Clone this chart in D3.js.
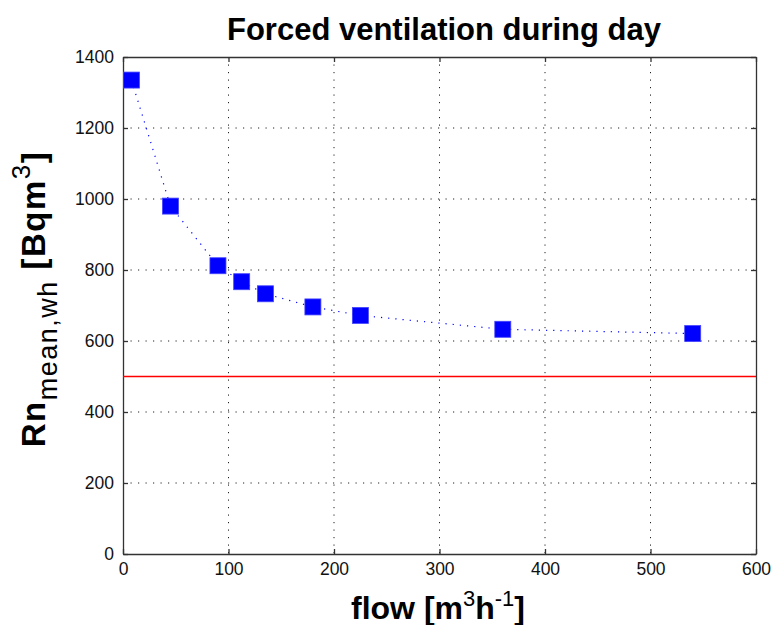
<!DOCTYPE html>
<html>
<head>
    <meta charset="utf-8">
    <title>Forced ventilation during day</title>
    <script type="text/javascript" src="https://d3js.org/d3.v7.min.js"></script>
    <style>
        body { margin: 0; background: white; }
        .canvas { font-family: "Liberation Sans", Arial, sans-serif; background-color: white; }
    </style>
</head>
<body>
    <svg class="canvas" width="773" height="625"></svg>
    <script type="text/javascript">
        // values
        var flow = [8, 45, 90, 112.5, 135, 180, 225, 360, 540]
        var radon = [1335, 980, 812, 767, 733, 696, 672, 633, 621]
        var limit = 500
        var xTicks = [0, 100, 200, 300, 400, 500, 600]
        var yTicks = [0, 200, 400, 600, 800, 1000, 1200, 1400]

        var pl = 123, pr = 756, pt = 57, pb = 554

        var svg = d3.select('.canvas')

        var x = d3.scaleLinear().domain([0, 600]).range([pl, pr])
        var y = d3.scaleLinear().domain([0, 1400]).range([pb, pt])

        // dotted grid
        svg.append('g')
            .selectAll('line')
            .data(xTicks.slice(1, -1))
            .enter()
            .append('line')
            .attr('x1', d => x(d)).attr('x2', d => x(d))
            .attr('y1', pt).attr('y2', pb)
            .attr('stroke', '#222').attr('stroke-width', 1)
            .attr('stroke-dasharray', '1.2,6.3')
        svg.append('g')
            .selectAll('line')
            .data(yTicks.slice(1, -1))
            .enter()
            .append('line')
            .attr('y1', d => y(d)).attr('y2', d => y(d))
            .attr('x1', pl).attr('x2', pr)
            .attr('stroke', '#222').attr('stroke-width', 1)
            .attr('stroke-dasharray', '1.2,6.3')

        // axes with inward ticks, box on all sides
        var fmt = d3.format('d')
        svg.append('g')
            .attr('transform', 'translate(0,' + pb + ')')
            .call(d3.axisBottom(x).tickValues(xTicks).tickFormat(fmt).tickSizeInner(-5).tickSizeOuter(0).tickPadding(9))
        svg.append('g')
            .attr('transform', 'translate(' + pl + ',0)')
            .call(d3.axisLeft(y).tickValues(yTicks).tickFormat(fmt).tickSizeInner(-5).tickSizeOuter(0).tickPadding(9))
        svg.append('g')
            .attr('transform', 'translate(0,' + pt + ')')
            .call(d3.axisTop(x).tickValues(xTicks).tickSizeInner(-5).tickSizeOuter(0).tickFormat(''))
        svg.append('g')
            .attr('transform', 'translate(' + pr + ',0)')
            .call(d3.axisRight(y).tickValues(yTicks).tickSizeInner(-5).tickSizeOuter(0).tickFormat(''))
        svg.selectAll('.domain, .tick line').attr('stroke', '#333').attr('stroke-width', 1.3)
        svg.selectAll('.tick text')
            .attr('font-size', 17.5)
            .attr('fill', '#111')
            .attr('font-family', '"Liberation Sans", Arial, sans-serif')

        // limit line
        svg.append('line')
            .attr('x1', x(0)).attr('x2', x(600))
            .attr('y1', y(limit)).attr('y2', y(limit))
            .attr('stroke', '#ff0000').attr('stroke-width', 1.3)

        // series
        var pts = flow.map((f, i) => [f, radon[i]])
        var line = d3.line().x(d => x(d[0])).y(d => y(d[1]))
        svg.append('path')
            .datum(pts)
            .attr('d', line)
            .attr('fill', 'none')
            .attr('stroke', '#0000ff')
            .attr('stroke-width', 1.2)
            .attr('stroke-dasharray', '1.2,6')

        var s = 16
        svg.selectAll('.dot')
            .data(pts)
            .enter()
            .append('rect')
            .attr('x', d => x(d[0]) - s / 2)
            .attr('y', d => y(d[1]) - s / 2)
            .attr('width', s).attr('height', s)
            .attr('fill', '#0000ff')
            .attr('stroke', '#4444ff').attr('stroke-width', 0.8)

        // texts
        svg.append('text')
            .attr('x', 444).attr('y', 40)
            .attr('text-anchor', 'middle')
            .style('font-size', '31px').style('font-weight', 'bold')
            .text('Forced ventilation during day')

        var xl = svg.append('text')
            .attr('x', 438).attr('y', 619)
            .attr('text-anchor', 'middle')
            .style('font-size', '32px').style('font-weight', 'bold')
        xl.append('tspan').text('flow [m')
        xl.append('tspan').attr('dy', -13).style('font-size', '22px').style('font-weight', 'normal').text('3')
        xl.append('tspan').attr('dy', 13).text('h')
        xl.append('tspan').attr('dy', -13).style('font-size', '22px').style('font-weight', 'normal').text('-1')
        xl.append('tspan').attr('dy', 13).text(']')

        var yl = svg.append('text')
            .attr('transform', 'translate(45,299) rotate(-90)')
            .attr('text-anchor', 'middle')
            .style('font-size', '33px').style('font-weight', 'bold')
            .style('letter-spacing', '1.5px')
        yl.append('tspan').text('Rn')
        yl.append('tspan').attr('dy', 12).style('font-size', '27px').style('font-weight', 'normal').text('mean,wh')
        yl.append('tspan').attr('dy', -12).text(' [Bqm')
        yl.append('tspan').attr('dy', -15).style('font-size', '26px').style('font-weight', 'normal').text('3')
        yl.append('tspan').attr('dy', 15).text(']')
    </script>
</body>
</html>
